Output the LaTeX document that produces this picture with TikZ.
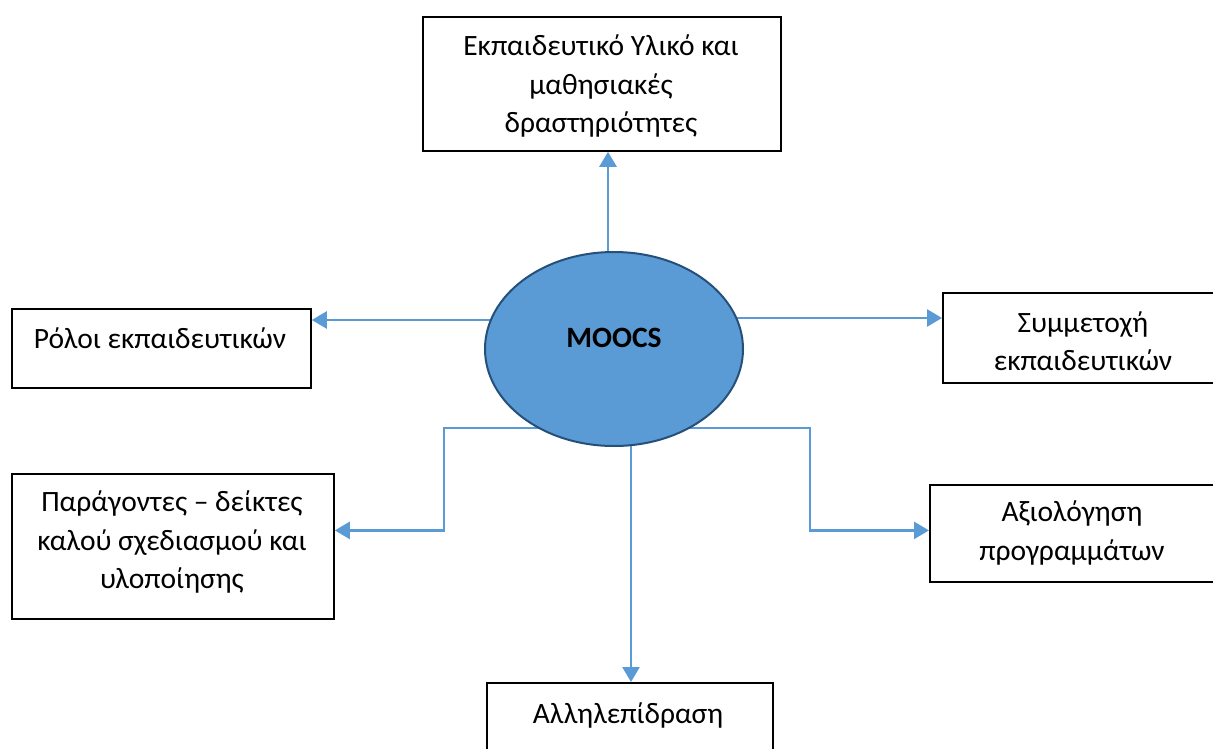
\documentclass[tikz,border=0pt]{standalone}
\usepackage{fontspec}
\setmainfont{Carlito}
\usetikzlibrary{arrows.meta,shapes.geometric,backgrounds}
\definecolor{conblue}{HTML}{5B9BD5}
\definecolor{ellfill}{HTML}{5B9BD5}
\definecolor{elldraw}{HTML}{24507A}
\tikzset{
  box/.style={draw=black, line width=1.8pt, rectangle, anchor=north west, inner sep=0pt},
  txt/.style={align=center, font=\fontsize{29.5}{38.5}\selectfont, inner sep=0pt},
  conn/.style={draw=conblue, line width=2.6pt, -{Triangle[length=15pt,width=17pt]}},
  hub/.style={ellipse, draw=elldraw, fill=ellfill, line width=2pt, minimum width=258pt, minimum height=194pt, inner sep=0pt}
}
\begin{document}
\begin{tikzpicture}[x=1pt,y=-1pt]
\useasboundingbox (0,0) rectangle (1213,749);
\clip (0,0) rectangle (1213,749);
% boxes
\node[box, minimum width=358pt, minimum height=134pt] (top) at (422,16) {};
\node[box, minimum width=299pt, minimum height=79pt] (rolo) at (11,308) {};
\node[box, minimum width=322pt, minimum height=145pt] (parag) at (11,473) {};
\node[box, minimum width=300pt, minimum height=90pt] (symm) at (942,292) {};
\node[box, minimum width=310pt, minimum height=97pt] (axio) at (929,484) {};
\node[box, minimum width=286pt, minimum height=100pt] (allil) at (486,682) {};
% hub
\node[hub] (moocs) at (614,349) {};
\node[txt, font=\fontsize{29.5}{38}\selectfont\bfseries] (moocst) at (614,338) {MOOCS};
% texts
\node[txt] (topt) at (601,86) {Εκπαιδευτικό Υλικό και\\μαθησιακές\\δραστηριότητες};
\node[txt] (rolot) at (160,338) {Ρόλοι εκπαιδευτικών};
\node[txt] (paragt) at (172,542) {Παράγοντες – δείκτες\\καλού σχεδιασμού και\\υλοποίησης};
\node[txt] (symmt) at (1083,341) {Συμμετοχή\\εκπαιδευτικών};
\node[txt] (axiot) at (1072,533) {Αξιολόγηση\\προγραμμάτων};
\node[txt] (allilt) at (628,715) {Αλληλεπίδραση};
% connectors
\coordinate (pl) at (444,428);
\coordinate (pr) at (810,428);
\begin{scope}[on background layer]
\fill[white] (0,0) rectangle (1213,749);
\draw[conn] ([xshift=-6pt]moocs.center) -- ([xshift=-6pt]moocs.center |- top.south);
\draw[conn] ([yshift=29pt]moocs.center) -- ([yshift=29pt]moocs.center -| rolo.east);
\draw[conn] ([yshift=31pt]moocs.center) -- ([yshift=31pt]moocs.center -| symm.west);
\draw[conn] ([yshift=-79pt]moocs.center) -- (pl) |- ([yshift=16pt]parag.east);
\draw[conn] ([yshift=-79pt]moocs.center) -- (pr) |- ([yshift=3pt]axio.west);
\draw[conn] ([xshift=17pt]moocs.center) -- ([xshift=17pt]moocs.center |- allil.north);
\end{scope}
\end{tikzpicture}
\end{document}
